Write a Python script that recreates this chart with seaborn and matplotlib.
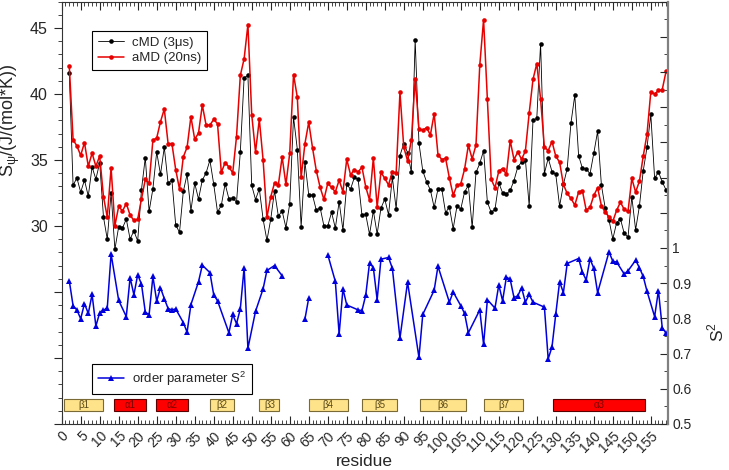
import numpy as np
import pandas as pd
import seaborn as sns
import matplotlib.pyplot as plt
from matplotlib.lines import Line2D
from matplotlib.patches import Rectangle
from matplotlib.ticker import MultipleLocator, FuncFormatter

nan = np.nan

# residue numbers 2..159
residues = list(range(2, 160))

# conformational entropy, cMD (3 us)
cmd = [41.62, 33.07, 33.64, 32.56, 33.47, 32.26, 34.47, 33.54, 34.80, 30.67,
       28.99, 32.51, 28.23, 29.94, 29.84, 30.52, 29.01, 29.62, 28.86, 32.76,
       35.18, 31.10, 32.81, 35.60, 33.90, 35.96, 33.24, 33.47, 30.07, 29.52,
       32.61, 33.92, 31.15, 33.24, 32.03, 33.47, 34.02, 34.98, 33.16, 31.05,
       31.56, 33.19, 32.05, 32.13, 31.80, 35.60, 41.22, 41.40, 33.07, 32.00,
       32.81, 30.50, 28.90, 30.50, 32.66, 30.75, 31.13, 29.87, 31.68, 38.25,
       35.79, 29.94, 34.85, 32.36, 32.33, 31.18, 31.38, 29.99, 29.99, 31.03,
       29.84, 31.83, 29.69, 33.14, 32.79, 33.67, 33.54, 30.82, 30.87, 29.36,
       31.15, 29.39, 31.35, 32.03, 30.85, 33.67, 31.30, 35.33, 36.24, 35.56,
       34.07, 44.12, 36.28, 34.17, 33.34, 32.73, 31.40, 32.79, 32.81, 31.00,
       31.45, 29.79, 31.50, 31.28, 32.58, 33.07, 29.89, 34.05, 34.73, 35.71,
       31.80, 31.03, 31.25, 33.26, 32.51, 32.41, 32.69, 33.44, 34.47, 34.83,
       35.03, 31.50, 38.00, 38.15, 43.81, 33.97, 35.13, 34.12, 33.90, 31.50,
       33.14, 34.35, 37.82, 39.91, 35.33, 34.37, 34.35, 33.94, 35.51, 37.17,
       33.09, 31.35, 30.45, 29.01, 30.24, 30.54, 29.44, 29.16, 32.20, 29.71,
       31.50, 34.17, 35.96, 38.45, 33.60, 34.10, 33.34, 32.73]

# conformational entropy, aMD (20 ns)
amd = [42.15, 36.54, 36.06, 35.35, 36.31, 34.52, 35.51, 34.52, 35.30, 32.20,
       30.67, 34.40, 30.02, 31.48, 31.13, 31.70, 30.82, 30.42, 30.50, 32.05,
       33.52, 33.22, 36.49, 36.66, 37.90, 38.85, 36.24, 36.24, 34.27, 32.79,
       35.23, 35.96, 38.28, 36.56, 37.04, 39.15, 37.64, 37.64, 38.07, 37.75,
       34.05, 34.80, 34.47, 34.02, 36.76, 41.40, 42.66, 45.25, 38.43, 35.60,
       38.07, 34.98, 30.65, 32.20, 33.26, 33.09, 35.23, 33.14, 35.51, 41.47,
       39.74, 33.67, 36.24, 37.85, 35.91, 34.17, 32.92, 32.01, 33.22, 32.92,
       32.58, 33.47, 32.58, 35.05, 33.87, 34.27, 34.09, 34.45, 32.96, 31.96,
       35.15, 31.43, 34.07, 33.60, 33.11, 34.12, 34.00, 40.11, 35.98, 34.93,
       36.51, 41.12, 37.37, 37.24, 37.45, 36.89, 38.50, 35.41, 35.03, 35.13,
       33.64, 32.33, 33.07, 33.19, 34.30, 36.11, 35.08, 36.13, 42.18, 45.63,
       39.58, 33.54, 32.89, 34.15, 34.35, 33.92, 36.46, 35.03, 35.60, 35.05,
       35.68, 38.55, 41.10, 42.30, 39.61, 35.98, 35.71, 36.39, 35.28, 34.83,
       33.14, 32.46, 32.08, 31.58, 32.56, 32.66, 31.20, 31.40, 32.31, 32.89,
       31.53, 31.03, 30.70, 30.35, 31.18, 31.80, 31.25, 31.10, 33.60, 32.56,
       33.39, 35.28, 36.96, 40.17, 39.99, 40.26, 40.32, 41.70]

# NMR order parameter S^2 (nan = not available)
s2 = [0.907, 0.836, 0.824, 0.799, 0.842, 0.814, 0.868, 0.778, 0.816, 0.823,
      0.830, 0.983, nan, 0.851, nan, 0.805, 0.916, 0.867, 0.924, 0.897,
      0.818, 0.810, 0.919, 0.849, 0.887, 0.856, 0.828, 0.824, 0.827, nan,
      0.788, 0.761, 0.839, nan, 0.904, 0.951, nan, 0.930, 0.867, 0.850,
      nan, nan, 0.759, 0.811, 0.785, 0.827, 0.944, 0.715, nan, 0.820,
      nan, 0.884, 0.936, nan, 0.950, nan, 0.921, nan, nan, nan,
      nan, nan, 0.798, 0.858, nan, nan, nan, nan, 0.981, nan,
      0.905, 0.755, 0.884, 0.838, nan, nan, 0.824, 0.822, 0.866, 0.958,
      0.944, 0.853, 0.968, nan, 0.973, 0.942, nan, 0.744, nan, 0.903,
      nan, nan, 0.689, 0.811, nan, nan, 0.880, 0.948, nan, nan,
      0.846, 0.875, nan, 0.836, 0.814, 0.759, nan, nan, 0.824, 0.726,
      0.853, nan, 0.829, 0.895, 0.850, 0.917, 0.911, 0.859, 0.864, 0.887,
      0.846, 0.868, 0.846, nan, nan, 0.832, 0.685, 0.719, 0.813, 0.904,
      0.873, 0.956, nan, nan, 0.970, 0.931, 0.909, 0.969, 0.942, 0.873,
      nan, nan, 0.989, 0.962, 0.960, nan, 0.926, 0.935, nan, 0.965,
      0.944, 0.919, 0.877, nan, 0.805, 0.879, 0.774, 0.758]

# secondary structure elements (residue ranges)
ss_names = ["β1", "α1", "α2", "β2", "β3", "β4", "β5", "β6", "β7", "α3"]
ss_start = [0.7, 13.8, 24.9, 38.9, 52.0, 65.0, 79.0, 94.2, 111.2, 129.3]
ss_end = [10.95, 22.1, 33.2, 45.4, 57.3, 75.2, 88.3, 106.3, 121.5, 153.5]

df = pd.DataFrame({"residue": residues, "cMD": cmd, "aMD": amd, "S2": s2})
s2df = df.dropna(subset=["S2"]).copy()
s2df["seg"] = (s2df["residue"].diff() > 4).cumsum()

sns.set_style("ticks")
plt.rcParams["font.family"] = ["Liberation Sans", "DejaVu Sans"]

fig = plt.figure(figsize=(7.29, 4.70), dpi=100)
ax = fig.add_axes([0.0846, 0.0979, 0.8311, 0.8989])
ax2 = ax.twinx()

# entropy curves
sns.lineplot(data=df, x="residue", y="cMD", ax=ax, color="black", lw=0.6,
             marker="o", markersize=3.3, markeredgewidth=0, estimator=None)
sns.lineplot(data=df, x="residue", y="aMD", ax=ax, color="#e60000", lw=1.1,
             marker="o", markersize=3.3, markeredgewidth=0, estimator=None)

# order parameter
sns.lineplot(data=s2df, x="residue", y="S2", units="seg", estimator=None, ax=ax2,
             color="#0000dd", lw=1.1, marker="^", markersize=5, markeredgewidth=0)

# secondary structure boxes
for name, a, b in zip(ss_names, ss_start, ss_end):
    alpha = name.startswith("α")
    fc = "#ff0000" if alpha else "#ffe38a"
    ec = "#5a0000" if alpha else "#7a6a35"
    tc = "#7a0000" if alpha else "#5a4a1a"
    ax.add_patch(Rectangle((a, 16.0), b - a, 0.9, facecolor=fc, edgecolor=ec, lw=0.8, zorder=3))
    ax.text((a + b) / 2, 16.45, name, ha="center", va="center", fontsize=7, color=tc, zorder=4)

# axes formatting
ax.set_xlim(0, 159.4)
ax.set_ylim(15, 47)
ax2.set_ylim(0.5, 1.7)

ax.xaxis.set_major_locator(MultipleLocator(5))
ax.xaxis.set_minor_locator(MultipleLocator(1))
ax.tick_params(axis="x", which="both", direction="in", top=True, bottom=True, labelsize=10)
ax.tick_params(axis="x", which="major", length=6, width=0.8)
ax.tick_params(axis="x", which="minor", length=3, width=0.6)
plt.setp(ax.get_xticklabels(), rotation=45, ha="right", va="top", rotation_mode="anchor")

ax.yaxis.set_major_locator(MultipleLocator(5))
ax.yaxis.set_minor_locator(MultipleLocator(1))
ax.yaxis.set_major_formatter(FuncFormatter(lambda v, p: f"{v:g}" if v > 29.9 else ""))
ax.tick_params(axis="y", which="both", direction="out", left=True, right=False, labelsize=11.5, pad=4)
ax.tick_params(axis="y", which="major", length=6, width=0.8)
ax.tick_params(axis="y", which="minor", length=3, width=0.6)

ax2.yaxis.set_major_locator(MultipleLocator(0.1))
ax2.yaxis.set_minor_locator(MultipleLocator(0.05))
ax2.yaxis.set_major_formatter(FuncFormatter(lambda v, p: f"{v:g}" if v < 1.001 else ""))
ax2.tick_params(axis="y", which="both", direction="in", labelsize=10)
ax2.tick_params(axis="y", which="major", length=6, width=0.8)
ax2.tick_params(axis="y", which="minor", length=3, width=0.6)

for sp in ["left", "top", "bottom"]:
    ax.spines[sp].set_color("#333333")
    ax.spines[sp].set_linewidth(0.8)
    ax2.spines[sp].set_visible(False)
ax.spines["right"].set_visible(False)
ax2.spines["right"].set_color("#808080")
ax2.spines["right"].set_linewidth(1.6)

ax.set_xlabel("residue", fontsize=12.5)
ax.xaxis.set_label_coords(0.5, -0.07)
ax.set_ylabel(r"S$_\mathregular{ψ}$/(J/(mol*K))", fontsize=13)
ax.yaxis.set_label_coords(-0.066, 0.72)
ax2.set_ylabel(r"S$^\mathregular{2}$", fontsize=12.5)
ax2.yaxis.set_label_coords(1.063, 0.218)

# legends
h1 = [Line2D([], [], color="black", lw=0.6, marker="o", ms=3.3, mew=0),
      Line2D([], [], color="#e60000", lw=1.1, marker="o", ms=3.3, mew=0)]
leg1 = ax.legend(h1, ["cMD (3μs)", "aMD (20ns)"], loc="upper left",
                 bbox_to_anchor=(0.0495, 0.931), borderaxespad=0, fontsize=9.5,
                 frameon=True, fancybox=False, edgecolor="black", framealpha=1,
                 handlelength=2.0, labelspacing=0.25, borderpad=0.45, handletextpad=0.6)
leg1.get_frame().set_linewidth(0.8)

h2 = [Line2D([], [], color="#0000dd", lw=1.1, marker="^", ms=5, mew=0)]
leg2 = ax2.legend(h2, [r"order parameter S$^\mathregular{2}$"], loc="lower left",
                  bbox_to_anchor=(0.0495, 0.071), borderaxespad=0, fontsize=9.5,
                  frameon=True, fancybox=False, edgecolor="black", framealpha=1,
                  handlelength=2.0, borderpad=0.45, handletextpad=0.6)
leg2.get_frame().set_linewidth(0.8)

fig.savefig("out.png", dpi=100)
